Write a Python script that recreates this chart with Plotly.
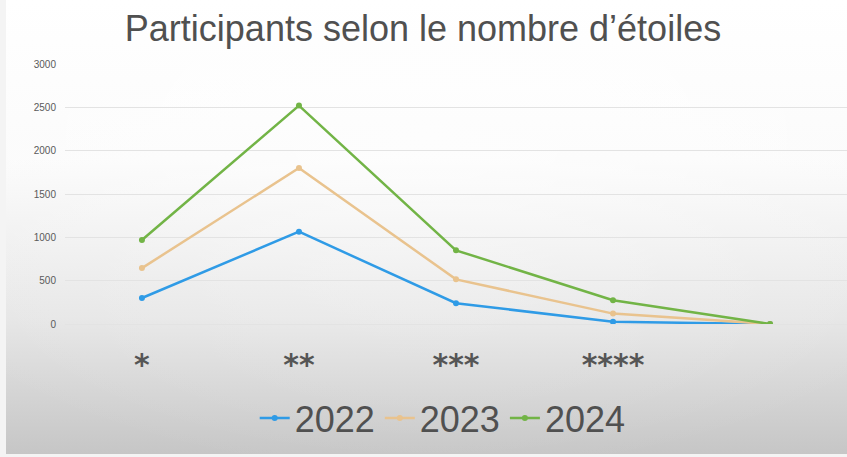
import base64
import plotly.graph_objects as go

categories = ["*", "**", "***", "****", " "]
years = ["2022", "2023", "2024"]
values_2022 = [300, 1065, 240, 25, 0]
values_2023 = [645, 1800, 515, 120, 0]
values_2024 = [970, 2520, 850, 275, 0]
y_ticks = [0, 500, 1000, 1500, 2000, 2500, 3000]

series = [values_2022, values_2023, values_2024]
colors = ["#2f9be6", "#e9c38e", "#72b446"]

W, H = 847, 457
L, R, T, B = 65, 0, 64, 133
PW, PH = W - L - R, H - T - B

svg = f"""<svg xmlns='http://www.w3.org/2000/svg' width='{W}' height='{H}' viewBox='0 0 {W} {H}' preserveAspectRatio='none'>
<defs>
<linearGradient id='g' x1='0' y1='0' x2='0' y2='1'>
<stop offset='0' stop-color='#ffffff'/>
<stop offset='0.35' stop-color='#fbfbfb'/>
<stop offset='0.7' stop-color='#e6e6e6'/>
<stop offset='1' stop-color='#c6c6c6'/>
</linearGradient>
<radialGradient id='r' cx='0.5' cy='0.3' r='0.75'>
<stop offset='0' stop-color='#ffffff' stop-opacity='0.5'/>
<stop offset='0.6' stop-color='#ffffff' stop-opacity='0.15'/>
<stop offset='1' stop-color='#ffffff' stop-opacity='0'/>
</radialGradient>
</defs>
<rect x='0' y='0' width='{W}' height='{H}' fill='#f4f4f4'/>
<rect x='6' y='0' width='{W-6}' height='{H-3}' fill='url(#g)'/>
<rect x='6' y='0' width='{W-6}' height='{H-3}' fill='url(#r)'/>
</svg>"""
src = "data:image/svg+xml;base64," + base64.b64encode(svg.encode()).decode()

fig = go.Figure()
for name, vals, col in zip(years, series, colors):
    fig.add_trace(go.Scatter(
        x=categories, y=vals, name=name, mode="lines+markers",
        line=dict(color=col, width=2.5),
        marker=dict(color=col, size=6),
    ))

fig.update_layout(
    width=W, height=H,
    margin=dict(l=L, r=R, t=T, b=B),
    paper_bgcolor="#ffffff",
    plot_bgcolor="rgba(0,0,0,0)",
    images=[dict(source=src, xref="paper", yref="paper",
                 x=-L / PW, y=1 + T / PH, sizex=W / PW, sizey=H / PH,
                 xanchor="left", yanchor="top", sizing="stretch", layer="below")],
    title=dict(text="Participants selon le nombre d’étoiles",
               x=423 / W, xanchor="center", xref="container",
               y=1 - 28 / H, yanchor="middle", yref="container",
               font=dict(family="Liberation Sans, Arial", size=36, color="#505050")),
    xaxis=dict(type="category", range=[-0.49, 4.49], showgrid=False, showline=False,
               zeroline=False, ticks="", ticklabelstandoff=20,
               tickfont=dict(family="DejaVu Sans", size=30, weight="bold", color="#555555")),
    yaxis=dict(range=[0, 3000], tickvals=y_ticks, ticktext=[str(v) for v in y_ticks],
               showgrid=True, gridcolor="#e3e3e3", gridwidth=1,
               zeroline=True, zerolinecolor="#e3e3e3", zerolinewidth=1,
               showline=False, ticks="", ticklabelstandoff=8,
               tickfont=dict(family="Liberation Sans, Arial", size=10, color="#5a5a5a")),
    legend=dict(orientation="h", x=0.483, xanchor="center", y=(324 - 418) / PH,
                yanchor="middle", bgcolor="rgba(0,0,0,0)", itemwidth=30,
                font=dict(family="Liberation Sans, Arial", size=36, color="#505050")),
    showlegend=True,
)

fig.write_html("out.html", config={"displayModeBar": False},
               post_script="document.body.style.margin='0';document.body.style.overflow='hidden';")
